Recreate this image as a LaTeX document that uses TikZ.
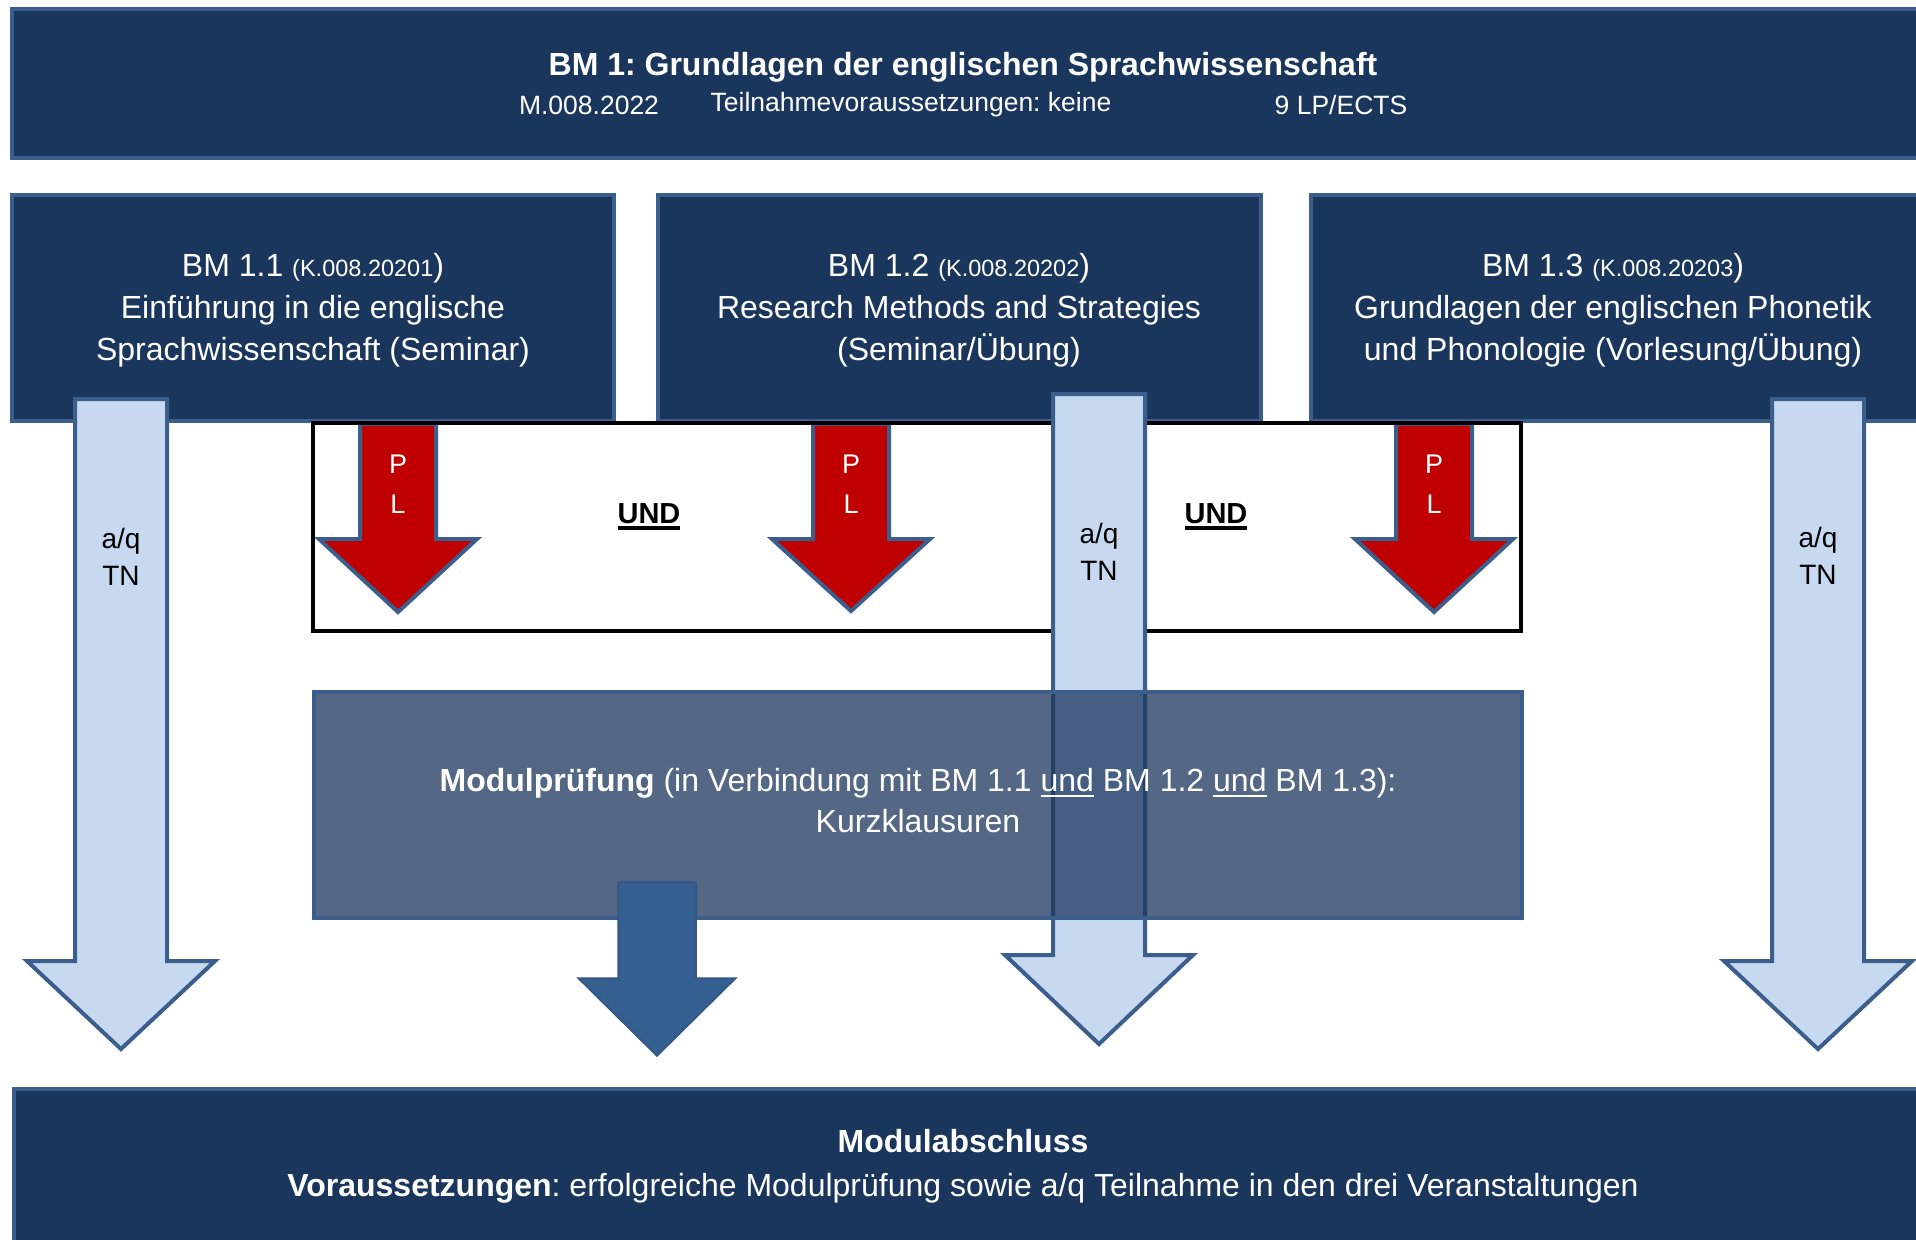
\documentclass[tikz,border=0pt]{standalone}
\usepackage{fontspec}
\setmainfont{Liberation Sans}
\frenchspacing
\definecolor{navy}{RGB}{27,54,93}
\definecolor{edgeblue}{RGB}{59,94,140}
\definecolor{paleblue}{RGB}{198,217,241}
\definecolor{plred}{RGB}{192,0,0}
\definecolor{midblue}{RGB}{54,95,145}

\newcommand{\myul}[3]{\setbox0=\hbox{#3}\leavevmode\rlap{\rule[-#2]{\wd0}{#1}}\box0\relax}
\newcommand{\blockarrow}[7]{%
  \draw[#1] (#2-#3,#5) -- (#2+#3,#5) -- (#2+#3,#6) -- (#2+#4,#6) -- (#2,#7) -- (#2-#4,#6) -- (#2-#3,#6) -- cycle;}

\tikzset{
  navybox/.style={draw=edgeblue, line width=4pt, fill=navy},
  undframe/.style={draw=black, line width=4pt},
  palearrow/.style={draw=edgeblue, line width=4pt, fill=paleblue},
  redarrow/.style={draw=edgeblue, line width=4pt, fill=plred},
  darkarrow/.style={draw=midblue!90!black, line width=1.5pt, fill=midblue},
  pruefbox/.style={draw=edgeblue, line width=4pt, fill=navy, fill opacity=0.75},
  whitetext/.style={text=white, inner sep=0pt, align=center},
  blacktext/.style={text=black, inner sep=0pt, align=center},
  bigfont/.style={font=\fontsize{32}{42}\selectfont},
}

\begin{document}
\begin{tikzpicture}[x=1pt,y=-1pt]
\useasboundingbox (0,0) rectangle (1916,1239);
\clip (0,0) rectangle (1916,1239);
\fill[white] (0,0) rectangle (1916,1239);

% boxes
\draw[navybox] (12,9) rectangle (1935,158);
\draw[navybox] (12,195) rectangle (614,421);
\draw[navybox] (658,195) rectangle (1261,421);
\draw[navybox] (1311,195) rectangle (1935,421);
\draw[navybox] (14,1089) rectangle (1935,1250);

% UND frame with red PL arrows
\fill[white] (313,423) rectangle (1521,631);
\blockarrow{redarrow}{398}{38}{79}{424}{539}{612}
\blockarrow{redarrow}{851}{38}{79}{424}{539}{611}
\blockarrow{redarrow}{1434}{38}{79}{424}{539}{612}
\draw[undframe] (313,423) rectangle (1521,631);

% pale a/q arrows
\blockarrow{palearrow}{121}{46}{94}{399}{961}{1049}
\blockarrow{palearrow}{1099}{46}{94}{394}{955}{1044}
\blockarrow{palearrow}{1818}{46}{94}{399}{961}{1049}

% Modulpruefung box and arrow
\draw[pruefbox] (314,692) rectangle (1522,918);
\blockarrow{darkarrow}{657}{39}{79}{882}{978}{1056}

% texts
\node[whitetext, font=\bfseries\fontsize{32}{40}\selectfont] (title) at (963,67) {BM 1: Grundlagen der englischen Sprachwissenschaft};
\node[whitetext, font=\fontsize{26.5}{32}\selectfont] (mcode) at (589,105) {M.008.2022};
\node[whitetext, font=\fontsize{26.5}{32}\selectfont] (tnv) at (911,105) {Teilnahmevoraussetzungen: keine};
\node[whitetext, font=\fontsize{26.5}{32}\selectfont] (lp) at (1341,105) {9 LP/ECTS};

\node[whitetext, bigfont] (bm11) at (313,310) {BM 1.1 {\fontsize{23.5}{28}\selectfont(K.008.20201})\\Einführung in die englische\\Sprachwissenschaft (Seminar)};
\node[whitetext, bigfont] (bm12) at (959,310) {BM 1.2 {\fontsize{23.5}{28}\selectfont(K.008.20202})\\Research Methods and Strategies\\(Seminar/Übung)};
\node[whitetext, bigfont] (bm13) at (1613,310) {BM 1.3 {\fontsize{23.5}{28}\selectfont(K.008.20203})\\Grundlagen der englischen Phonetik\\und Phonologie (Vorlesung/Übung)};

\node[whitetext, font=\fontsize{27}{32}\selectfont] (p1) at (398,464) {P};
\node[whitetext, font=\fontsize{27}{32}\selectfont] (l1) at (398,504) {L};
\node[whitetext, font=\fontsize{27}{32}\selectfont] (p2) at (851,464) {P};
\node[whitetext, font=\fontsize{27}{32}\selectfont] (l2) at (851,504) {L};
\node[whitetext, font=\fontsize{27}{32}\selectfont] (p3) at (1434,464) {P};
\node[whitetext, font=\fontsize{27}{32}\selectfont] (l3) at (1434,504) {L};

\node[blacktext, anchor=base, font=\bfseries\fontsize{29}{34}\selectfont] (und1) at (649,523) {\myul{4pt}{7pt}{UND}};
\node[blacktext, anchor=base, font=\bfseries\fontsize{29}{34}\selectfont] (und2) at (1216,523) {\myul{4pt}{7pt}{UND}};

\node[blacktext, font=\fontsize{28}{37}\selectfont] (aq1) at (121,557) {a/q\\TN};
\node[blacktext, font=\fontsize{28}{37}\selectfont] (aq2) at (1099,552) {a/q\\TN};
\node[blacktext, font=\fontsize{28}{37}\selectfont] (aq3) at (1818,556) {a/q\\TN};

\node[whitetext, font=\fontsize{32}{41}\selectfont] (mp) at (918,801) {{\bfseries Modulprüfung} (in Verbindung mit BM 1.1 \myul{2pt}{5pt}{und} BM 1.2 \myul{2pt}{5pt}{und} BM 1.3):\\Kurzklausuren};

\node[whitetext, font=\fontsize{32}{44}\selectfont] (ma) at (963,1166) {{\bfseries Modulabschluss}\\{\bfseries Voraussetzungen}: erfolgreiche Modulprüfung sowie a/q Teilnahme in den drei Veranstaltungen};
\end{tikzpicture}
\end{document}
